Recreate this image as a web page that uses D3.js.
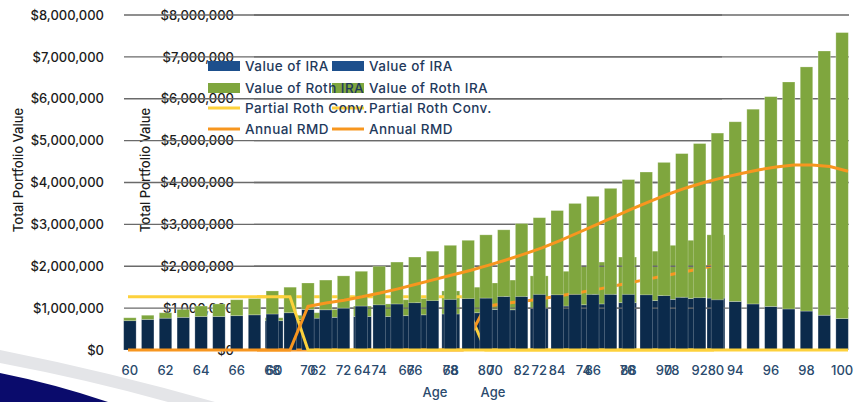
<!DOCTYPE html>
<html>
<head>
<meta charset="utf-8">
<script src="https://cdn.jsdelivr.net/npm/d3@7"></script>
<style>
  body { margin: 0; background: #fff; }
  svg { display: block; }
  text { font-family: Inter, "Noto Sans", sans-serif; font-weight: 500; }
</style>
</head>
<body>
<svg id="chart" width="855" height="402"></svg>
<script>
// Ages on the x axis
const ages = [60, 61, 62, 63, 64, 65, 66, 67, 68, 69, 70, 71, 72, 73, 74, 75, 76, 77, 78, 79, 80,
              81, 82, 83, 84, 85, 86, 87, 88, 89, 90, 91, 92, 93, 94, 95, 96, 97, 98, 99, 100];

// Values in millions of dollars
const iraValue = [0.70, 0.73, 0.76, 0.78, 0.80, 0.80, 0.82, 0.84, 0.86, 0.89, 0.97, 0.96, 1.00, 1.05,
                  1.08, 1.10, 1.13, 1.18, 1.21, 1.23, 1.24, 1.28, 1.28, 1.33, 1.32, 1.33, 1.33, 1.33,
                  1.33, 1.32, 1.30, 1.26, 1.25, 1.20, 1.16, 1.10, 1.04, 0.98, 0.93, 0.83, 0.75];
const rothValue = [0.07, 0.10, 0.13, 0.19, 0.25, 0.30, 0.38, 0.39, 0.55, 0.61, 0.63, 0.71, 0.77, 0.83,
                   0.92, 1.00, 1.09, 1.18, 1.29, 1.39, 1.51, 1.59, 1.74, 1.83, 2.01, 2.17, 2.34, 2.53,
                   2.74, 2.93, 3.18, 3.43, 3.68, 3.98, 4.29, 4.65, 5.01, 5.42, 5.83, 6.31, 6.83];
const rothConversion = [1.27, 1.27, 1.27, 1.27, 1.27, 1.27, 1.27, 1.27, 1.27, 1.27, 0, 0, 0, 0,
                        0, 0, 0, 0, 0, 0, 0, 0, 0, 0, 0, 0, 0, 0,
                        0, 0, 0, 0, 0, 0, 0, 0, 0, 0, 0, 0, 0];
const annualRmd = [0, 0, 0, 0, 0, 0, 0, 0, 0, 0, 1.04, 1.12, 1.19, 1.27,
                   1.36, 1.46, 1.57, 1.68, 1.79, 1.90, 2.02, 2.15, 2.29, 2.44, 2.61, 2.80, 2.99, 3.18,
                   3.37, 3.55, 3.72, 3.87, 4.00, 4.11, 4.21, 4.30, 4.37, 4.42, 4.42, 4.38, 4.27];

const yTicks = [0, 1e6, 2e6, 3e6, 4e6, 5e6, 6e6, 7e6, 8e6];
const legendLabels = ["Value of IRA", "Value of Roth IRA", "Partial Roth Conv.", "Annual RMD"];

const colors = {
    ira: "#0b2a4b",
    roth: "#7fa63e",
    iraKey: "#1d4f8c",
    conv: "#fdd13c",
    rmd: "#f7961f"
};

const svg = d3.select("#chart");

// background swoosh, bottom left
svg.append("path")
    .attr("d", "M0,350 Q110,372 215,402 L168,402 Q90,380 0,363 Z")
    .attr("fill", "#e4e5e8");
svg.append("path")
    .attr("d", "M0,373 Q55,384 108,402 L0,402 Z")
    .attr("fill", "#0a0b6c");

const y = d3.scaleLinear().domain([0, 8e6]).range([350, 15]);

function drawChart(cfg) {
    const g = svg.append("g");
    const cats = ages.slice(0, cfg.count);
    const rows = cats.map((age, i) => ({
        age: age,
        ira: iraValue[i] * 1e6,
        roth: rothValue[i] * 1e6,
        conv: rothConversion[i] * 1e6,
        rmd: annualRmd[i] * 1e6
    }));

    const x = d3.scaleBand()
        .domain(cats)
        .range(cfg.barRange)
        .paddingInner(cfg.padIn)
        .paddingOuter(cfg.padIn / 2);

    const xl = d3.scalePoint()
        .domain(cats)
        .range(cfg.lineRange);

    // gridlines
    g.append("g").selectAll("line")
        .data(yTicks.filter(v => v > 0))
        .join("line")
        .attr("x1", cfg.gridRange[0])
        .attr("x2", cfg.gridRange[1])
        .attr("y1", d => y(d))
        .attr("y2", d => y(d))
        .attr("stroke", "#6a6a6a")
        .attr("stroke-width", 1.3);

    // y axis labels
    g.append("g")
        .attr("transform", `translate(${cfg.yAxisX},0)`)
        .call(d3.axisLeft(y).tickValues(yTicks).tickFormat(d3.format("$,")).tickSize(0).tickPadding(0))
        .call(a => a.select(".domain").remove())
        .call(a => a.selectAll("text")
            .attr("font-size", 13)
            .attr("font-family", "Inter, 'Noto Sans', sans-serif")
            .attr("fill", "#1c1c1c"));

    // y title
    g.append("text")
        .attr("transform", `translate(${cfg.yTitleX},170) rotate(-90)`)
        .attr("text-anchor", "middle")
        .attr("font-size", 13)
        .attr("fill", "#1c1c1c")
        .text("Total Portfolio Value");

    // stacked bars
    const stack = d3.stack().keys(["ira", "roth"])(rows);
    g.append("g").selectAll("g")
        .data(stack)
        .join("g")
        .attr("fill", d => colors[d.key])
        .selectAll("rect")
        .data(d => d)
        .join("rect")
        .attr("x", d => x(d.data.age))
        .attr("width", x.bandwidth())
        .attr("y", d => y(d[1]))
        .attr("height", d => y(d[0]) - y(d[1]))
        .attr("stroke", "#ffffff")
        .attr("stroke-opacity", 0.3)
        .attr("stroke-width", 0.8);

    // lines
    const convLine = d3.line().x(d => xl(d.age)).y(d => y(d.conv));
    const rmdLine = d3.line().x(d => xl(d.age)).y(d => y(d.rmd));
    g.append("path")
        .datum(rows)
        .attr("fill", "none")
        .attr("stroke", colors.conv)
        .attr("stroke-width", 3)
        .attr("d", convLine);
    g.append("path")
        .datum(rows)
        .attr("fill", "none")
        .attr("stroke", colors.rmd)
        .attr("stroke-width", 3)
        .attr("d", rmdLine);

    // x axis
    g.append("g")
        .attr("transform", "translate(0,358)")
        .call(d3.axisBottom(x).tickValues(cats.filter(a => a % 2 === 0)).tickSize(0).tickPadding(8))
        .call(a => a.select(".domain").remove())
        .call(a => a.selectAll("text")
            .attr("font-size", 13)
            .attr("font-family", "Inter, 'Noto Sans', sans-serif")
            .attr("fill", "#2a4a6d"));

    g.append("text")
        .attr("x", cfg.ageX)
        .attr("y", 397)
        .attr("text-anchor", "middle")
        .attr("font-size", 13)
        .attr("fill", "#2a4a6d")
        .text("Age");
}

function drawLegend(legendX) {
    const leg = svg.append("g").attr("transform", `translate(${legendX},0)`);
    const rowY = [66, 88, 108, 129];
    legendLabels.forEach((label, i) => {
        if (i < 2) {
            leg.append("rect")
                .attr("x", 0).attr("y", rowY[i] - 5)
                .attr("width", 32).attr("height", 10)
                .attr("fill", i === 0 ? colors.iraKey : colors.roth);
        } else {
            leg.append("line")
                .attr("x1", 0).attr("x2", 32)
                .attr("y1", rowY[i]).attr("y2", rowY[i])
                .attr("stroke", i === 2 ? colors.conv : colors.rmd)
                .attr("stroke-width", 3);
        }
        leg.append("text")
            .attr("x", 37)
            .attr("y", rowY[i])
            .attr("dy", "0.35em")
            .attr("font-size", 13.5)
            .attr("letter-spacing", 0.45)
            .attr("fill", "#1f3a5c")
            .text(label);
    });
}

// the narrower copy (ages 60-80) sits underneath
drawChart({
    count: 21,
    barRange: [263, 727],
    padIn: 0.19,
    lineRange: [257, 714],
    gridRange: [254, 722],
    yAxisX: 234,
    yTitleX: 150,
    ageX: 435
});

// the full chart (ages 60-100) on top
drawChart({
    count: 41,
    barRange: [121, 851],
    padIn: 0.3,
    lineRange: [128, 848],
    gridRange: [124, 849],
    yAxisX: 104,
    yTitleX: 23,
    ageX: 493
});

// legends: the full chart's key, then the narrow copy's key over it
drawLegend(332);
drawLegend(208);
</script>
</body>
</html>
